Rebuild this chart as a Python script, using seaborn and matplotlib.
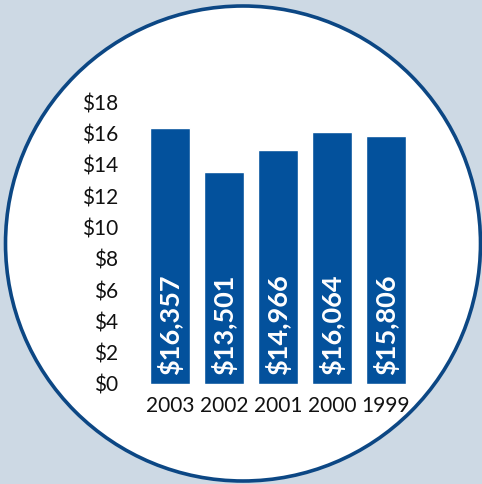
import matplotlib
matplotlib.use('Agg')
import matplotlib.pyplot as plt
from matplotlib.patches import Circle
import seaborn as sns
import pandas as pd

# chart data (values in thousands of dollars)
years = ['2003', '2002', '2001', '2000', '1999']
values = [16.357, 13.501, 14.966, 16.064, 15.806]
bar_labels = ['$16,357', '$13,501', '$14,966', '$16,064', '$15,806']
y_ticks = [0, 2, 4, 6, 8, 10, 12, 14, 16, 18]
y_tick_labels = ['$' + str(t) for t in y_ticks]

BG = '#cdd9e4'
BAR = '#03519c'
RING = '#0c4784'

sns.set_style('white')
plt.rcParams['font.family'] = ['Lato', 'DejaVu Sans']

W, H = 482, 484
fig = plt.figure(figsize=(W / 100, H / 100), dpi=100)
fig.patch.set_facecolor(BG)

# background circle
bg = fig.add_axes([0, 0, 1, 1])
bg.set_xlim(0, W)
bg.set_ylim(H, 0)
bg.axis('off')
bg.add_patch(Circle((243, 243.5), 237.5, facecolor='white', edgecolor=RING, linewidth=2.6))

# bar chart axes, placed in pixel terms
left, right, bottom, top = 140, 416, 384, 102
ax = fig.add_axes([left / W, 1 - bottom / H, (right - left) / W, (bottom - top) / H])
ax.patch.set_alpha(0)

df = pd.DataFrame({'year': years, 'value': values})
sns.barplot(data=df, x='year', y='value', color=BAR, saturation=1, width=0.74, ax=ax)

ax.set_xlim(-0.556, 4.556)
ax.set_ylim(0, 18)
ax.set_yticks(y_ticks)
ax.set_yticklabels(y_tick_labels)
ax.set_xlabel('')
ax.set_ylabel('')
ax.tick_params(axis='y', length=0, pad=16, labelsize=15, labelcolor='#111111')
ax.tick_params(axis='x', length=0, pad=9, labelsize=15, labelcolor='#111111')
for s in ax.spines.values():
    s.set_visible(False)

for i, lab in enumerate(bar_labels):
    ax.text(i, 0.55, lab, rotation=90, ha='center', va='bottom',
            color='white', fontsize=19.5, fontweight='bold')

fig.savefig('out.png', dpi=100, facecolor=BG)
